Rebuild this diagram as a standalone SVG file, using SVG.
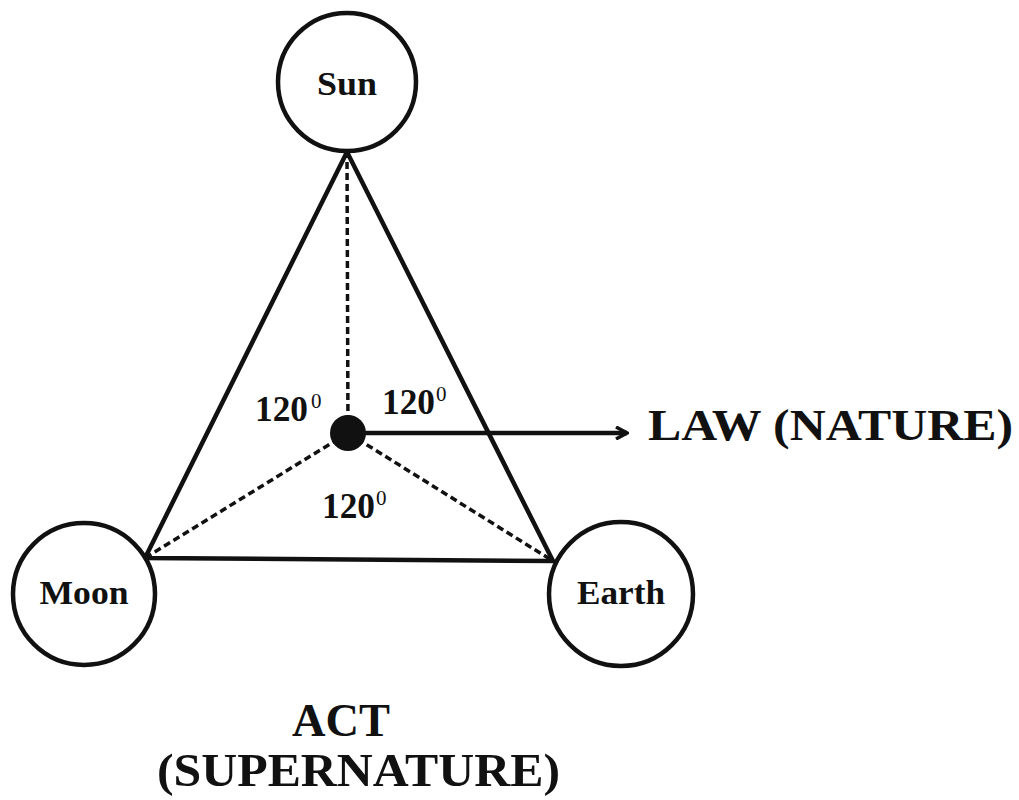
<svg xmlns="http://www.w3.org/2000/svg" width="1019" height="800" viewBox="0 0 1019 800">
<style>
.node{fill:#fff;stroke:#111;stroke-width:4.5}
.lbl{font-family:"Liberation Serif","Times New Roman",Times,serif;font-weight:bold;fill:#111}
.solid{stroke:#111;stroke-width:4.5;fill:none}
.dash{stroke:#111;stroke-width:3.5;fill:none;stroke-dasharray:7 4}
.deg{font-family:"Liberation Serif","Times New Roman",Times,serif;font-weight:bold;font-size:35px;fill:#111}
.sup{font-family:"Liberation Serif","Times New Roman",Times,serif;font-size:21px;fill:#111}
</style>
<defs>
<marker id="arr" markerWidth="14" markerHeight="14" refX="12" refY="7" orient="auto" markerUnits="userSpaceOnUse">
<path d="M1,1 L12,7 L1,13" fill="none" stroke="#111" stroke-width="3.5"/>
</marker>
</defs>
<rect width="1019" height="800" fill="#fff"/>
<g id="connectors">
<polygon class="solid" points="347,152 145,558 553,561"/>
<line class="dash" x1="348" y1="433" x2="347" y2="152"/>
<line class="dash" x1="348" y1="433" x2="145" y2="558"/>
<line class="dash" x1="348" y1="433" x2="553" y2="561"/>
<line class="solid" x1="348" y1="433" x2="627" y2="433" marker-end="url(#arr)"/>
</g>
<g id="sun">
<circle class="node" cx="347" cy="82" r="69"/>
<text class="lbl" x="347" y="95" font-size="34" text-anchor="middle" textLength="60" lengthAdjust="spacingAndGlyphs">Sun</text>
</g>
<g id="moon">
<circle class="node" cx="84" cy="594" r="71"/>
<text class="lbl" x="84" y="604" font-size="33" text-anchor="middle" textLength="89" lengthAdjust="spacingAndGlyphs">Moon</text>
</g>
<g id="earth">
<circle class="node" cx="621" cy="594" r="72"/>
<text class="lbl" x="621" y="604" font-size="33" text-anchor="middle" textLength="88" lengthAdjust="spacingAndGlyphs">Earth</text>
</g>
<g id="center">
<circle cx="348" cy="433" r="18" fill="#111"/>
</g>
<g id="angles">
<text class="deg" x="255" y="421" textLength="53" lengthAdjust="spacingAndGlyphs">120</text><text class="sup" x="311" y="408">0</text>
<text class="deg" x="382" y="414" textLength="53" lengthAdjust="spacingAndGlyphs">120</text><text class="sup" x="436" y="401">0</text>
<text class="deg" x="322" y="518" textLength="53" lengthAdjust="spacingAndGlyphs">120</text><text class="sup" x="376" y="505">0</text>
</g>
<g id="law">
<text class="lbl" x="648" y="440" font-size="45" textLength="365" lengthAdjust="spacingAndGlyphs">LAW (NATURE)</text>
</g>
<g id="act">
<text class="lbl" x="292" y="736" font-size="47" textLength="98" lengthAdjust="spacingAndGlyphs">ACT</text>
<text class="lbl" x="157" y="786" font-size="47" textLength="403" lengthAdjust="spacingAndGlyphs">(SUPERNATURE)</text>
</g>
</svg>
